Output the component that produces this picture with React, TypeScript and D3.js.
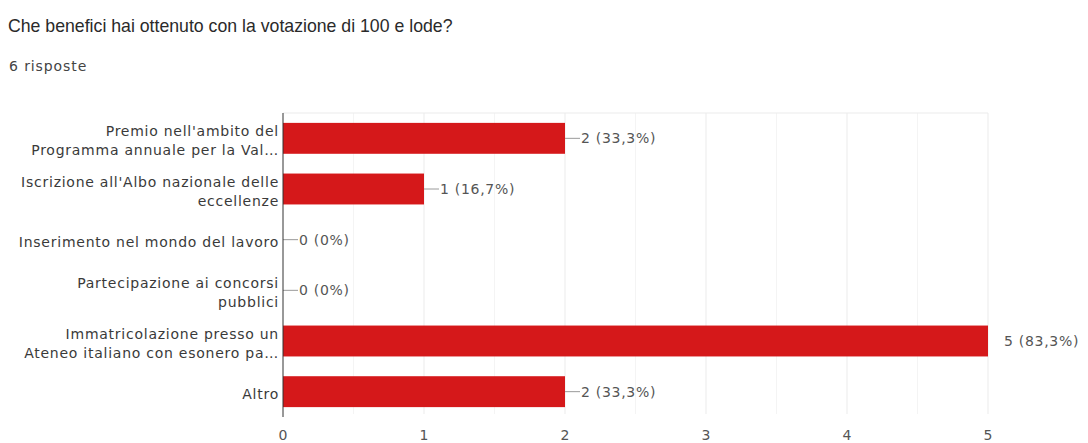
import { useEffect, useRef } from 'react';
import * as d3 from 'd3';

const title = 'Che benefici hai ottenuto con la votazione di 100 e lode?';
const subtitle = '6 risposte';

const categories: string[][] = [
  ["Premio nell'ambito del", 'Programma annuale per la Val…'],
  ["Iscrizione all'Albo nazionale delle", 'eccellenze'],
  ['Inserimento nel mondo del lavoro'],
  ['Partecipazione ai concorsi', 'pubblici'],
  ['Immatricolazione presso un', 'Ateneo italiano con esonero pa…'],
  ['Altro'],
];
const counts = [2, 1, 0, 0, 5, 2];
const valueLabels = ['2 (33,3%)', '1 (16,7%)', '0 (0%)', '0 (0%)', '5 (83,3%)', '2 (33,3%)'];
const xTicks = [0, 1, 2, 3, 4, 5];
const gridValues = [0.5, 1, 1.5, 2, 2.5, 3, 3.5, 4, 4.5, 5];

const App = () => {
  const ref = useRef<SVGSVGElement>(null);

  useEffect(() => {
    if (!ref.current) return;
    const svg = d3.select(ref.current);
    svg.selectAll('*').remove();

    const titleFont = 'Liberation Sans, Arial, sans-serif';
    const font = 'DejaVu Sans, sans-serif';
    const left = 283;
    const right = 988;
    const top = 113;
    const bottom = 417;

    const x = d3.scaleLinear().domain([0, 5]).range([left, right]);
    const y = d3.scaleBand<number>()
      .domain(d3.range(categories.length))
      .range([top, bottom])
      .paddingInner(0.39)
      .paddingOuter(0.195);

    // title
    svg.append('text')
      .attr('x', 8)
      .attr('y', 32)
      .attr('font-family', titleFont)
      .attr('font-size', 17.7)
      .attr('fill', '#2a2a2a')
      .text(title);

    svg.append('text')
      .attr('x', 9)
      .attr('y', 71)
      .attr('font-family', font)
      .attr('font-size', 14)
      .attr('letter-spacing', 0.9)
      .attr('fill', '#444')
      .text(subtitle);

    // faint grid
    svg.append('g')
      .selectAll('line')
      .data(gridValues)
      .join('line')
      .attr('x1', d => x(d))
      .attr('x2', d => x(d))
      .attr('y1', top)
      .attr('y2', bottom - 3)
      .attr('stroke', d => (Number.isInteger(d) ? '#ebebeb' : '#f4f4f4'))
      .attr('stroke-width', 1);

    svg.append('line')
      .attr('x1', left)
      .attr('x2', right)
      .attr('y1', top)
      .attr('y2', top)
      .attr('stroke', '#ebebeb');

    // bars
    svg.append('g')
      .selectAll('rect')
      .data(counts)
      .join('rect')
      .attr('x', x(0))
      .attr('y', (_, i) => y(i)!)
      .attr('width', d => x(d) - x(0))
      .attr('height', y.bandwidth())
      .attr('fill', '#d5181a');

    // leader lines + value labels
    const vals = svg.append('g');
    const maxCount = d3.max(counts)!;
    counts.forEach((d, i) => {
      const cy = y(i)! + y.bandwidth() / 2;
      const x0 = x(d);
      if (d !== maxCount) {
        vals.append('line')
          .attr('x1', x0)
          .attr('x2', x0 + 15)
          .attr('y1', cy)
          .attr('y2', cy)
          .attr('stroke', '#9a9a9a');
      }
      vals.append('text')
        .attr('x', x0 + 16)
        .attr('y', cy)
        .attr('dy', '0.36em')
        .attr('font-family', font)
        .attr('font-size', 14)
        .attr('letter-spacing', 0.7)
        .attr('fill', '#555')
        .text(valueLabels[i]);
    });

    // category labels
    const cat = svg.append('g');
    categories.forEach((lines, i) => {
      const cy = y(i)! + y.bandwidth() / 2;
      const lh = 19;
      const start = cy + 2 - ((lines.length - 1) * lh) / 2;
      const t = cat.append('text')
        .attr('text-anchor', 'end')
        .attr('font-family', font)
        .attr('font-size', 14)
        .attr('letter-spacing', 0.75)
        .attr('fill', '#3a3a3a');
      lines.forEach((line, j) => {
        t.append('tspan')
          .attr('x', left - 4)
          .attr('y', start + j * lh)
          .attr('dy', '0.36em')
          .text(line);
      });
    });

    // axis line
    svg.append('line')
      .attr('x1', left)
      .attr('x2', left)
      .attr('y1', top)
      .attr('y2', bottom)
      .attr('stroke', '#333')
      .attr('stroke-width', 1);

    // x tick labels
    svg.append('g')
      .selectAll('text')
      .data(xTicks)
      .join('text')
      .attr('x', d => x(d))
      .attr('y', 440)
      .attr('text-anchor', 'middle')
      .attr('font-family', font)
      .attr('font-size', 14)
      .attr('fill', '#555')
      .text(d => d);
  }, []);

  return (
    <svg
      ref={ref}
      width={1088}
      height={443}
      style={{ position: 'absolute', left: 0, top: 0, background: '#fff' }}
    />
  );
};

export default App;
